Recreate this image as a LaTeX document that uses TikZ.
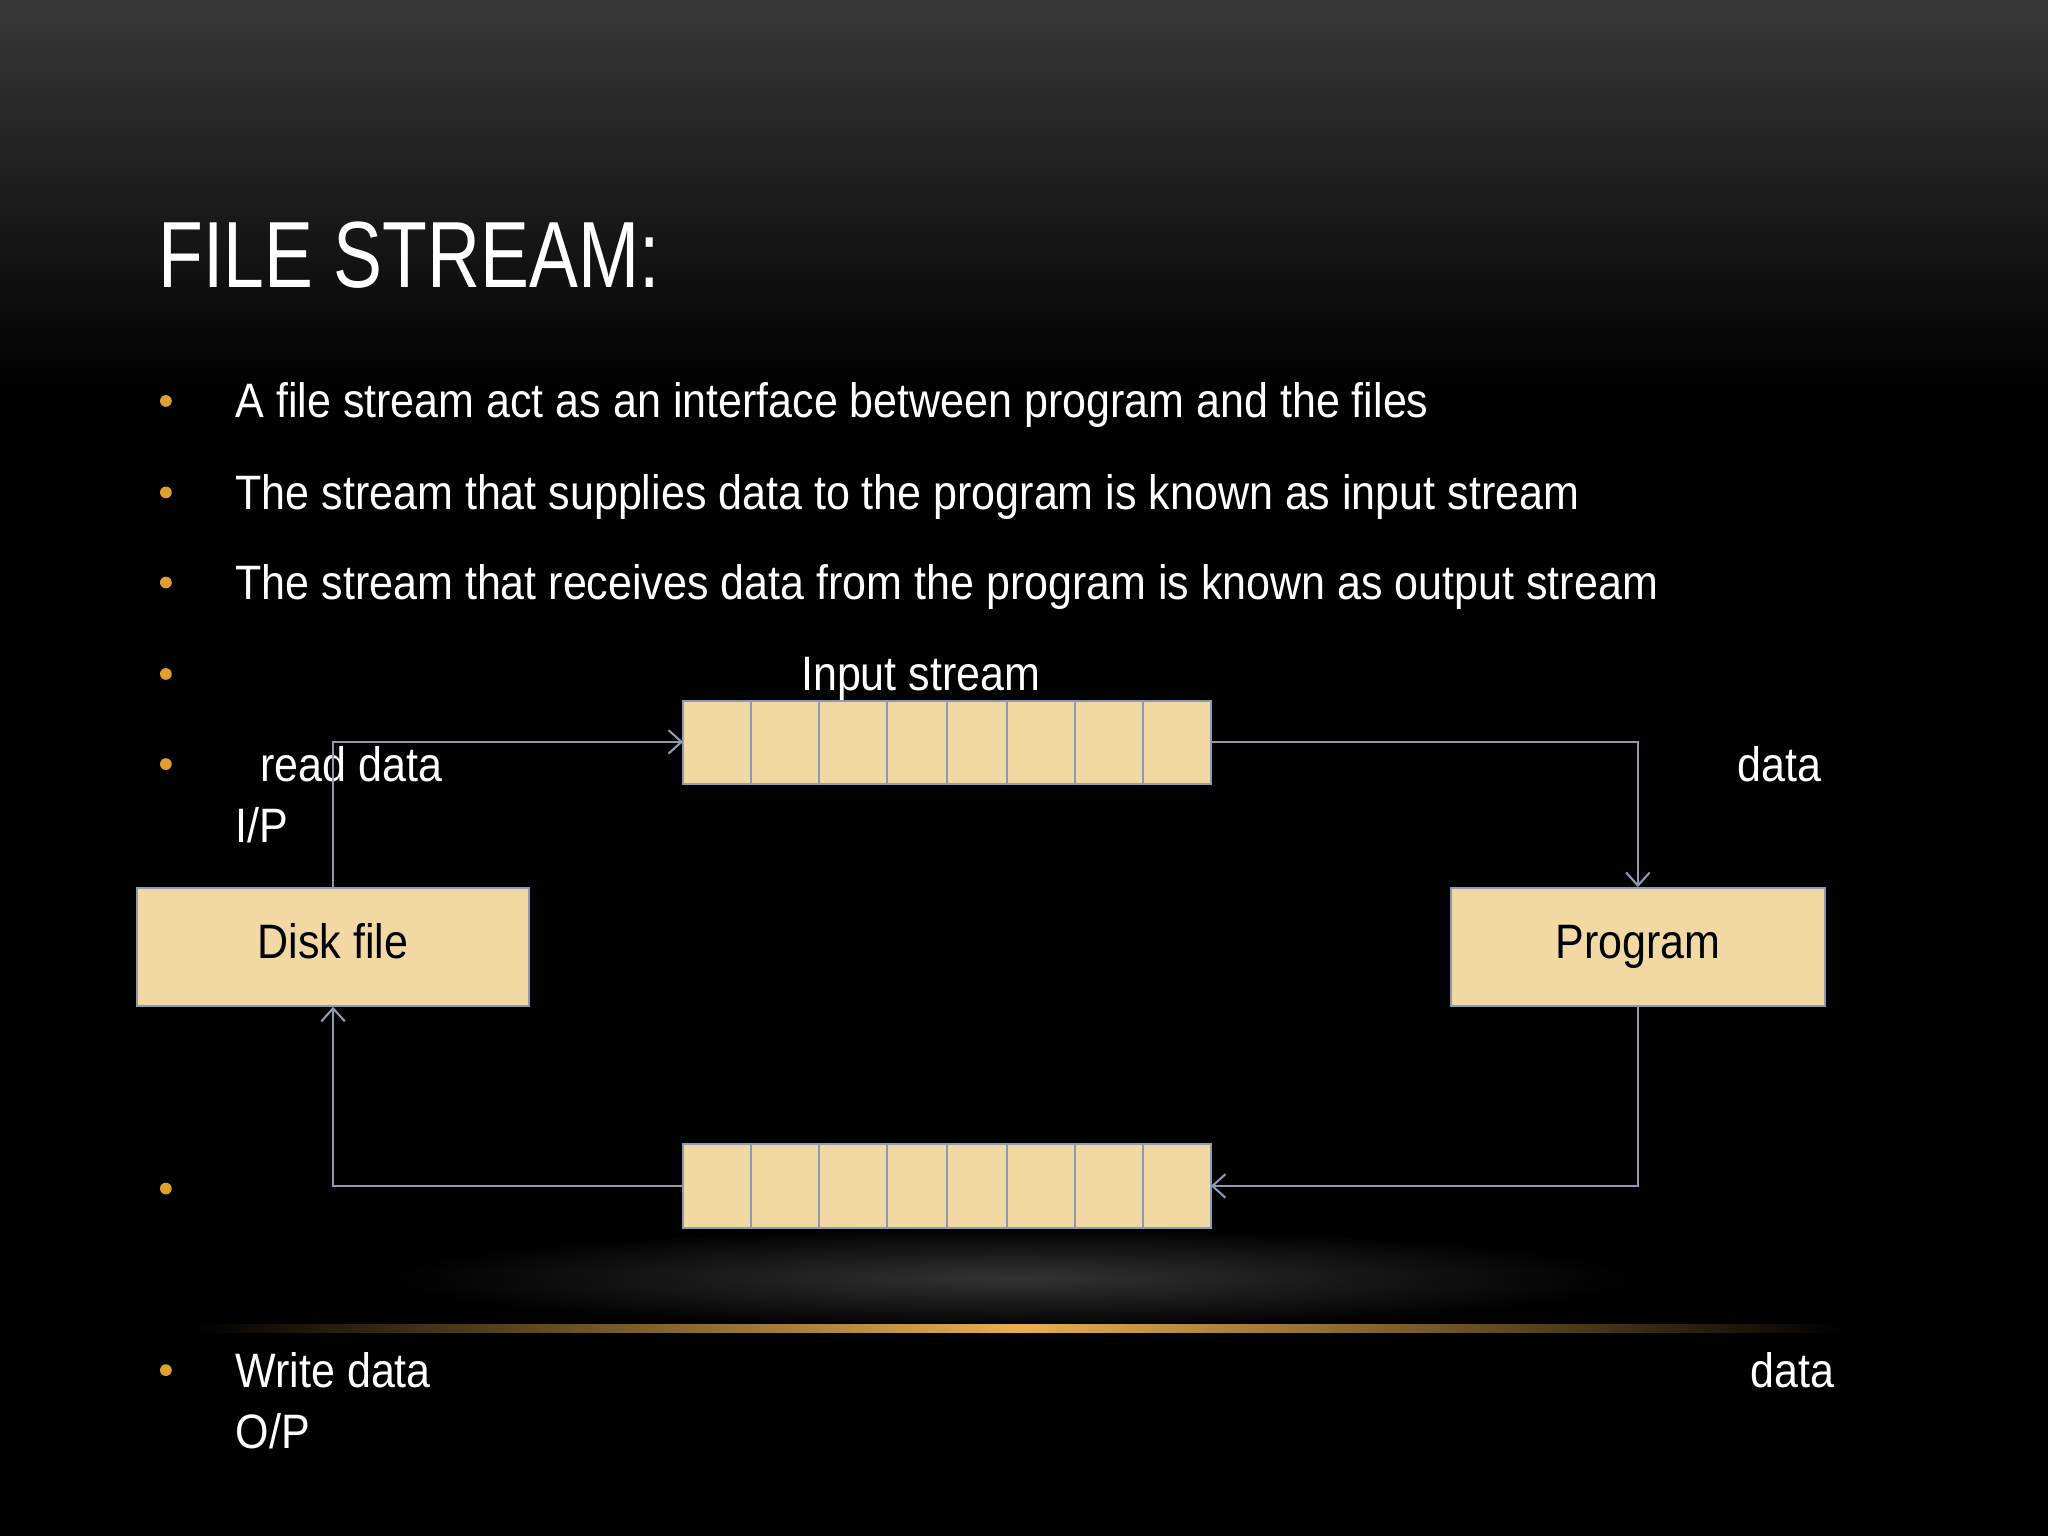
\documentclass[tikz,border=0pt]{standalone}
\usepackage{fontspec}
\usetikzlibrary{arrows.meta}
\setmainfont{Liberation Sans}[FakeStretch=0.89]
\newfontfamily\titlefont{Liberation Sans}[FakeStretch=0.78]
\definecolor{cellfill}{HTML}{F2D9A3}
\definecolor{edge}{HTML}{8A9BB2}
\definecolor{bulc}{HTML}{E0A030}
\definecolor{gold}{HTML}{E8B050}
\begin{document}
\begin{tikzpicture}[x=0.5pt,y=-0.5pt,
  txt/.style={text=white,font=\fontsize{18.5}{20}\selectfont,inner sep=0pt},
  bul/.style={circle,fill=bulc,inner sep=0pt,minimum size=4.5pt},
  cell/.style={draw=edge,fill=cellfill,line width=0.8pt},
  box/.style={draw=edge,fill=cellfill,line width=0.8pt,text=black,font=\fontsize{18.5}{20}\selectfont,text height=13pt,text depth=4pt},
  conn/.style={draw=edge,line width=0.8pt},
  arr/.style={conn,-{Straight Barb[length=5pt,width=9pt]}}]
\useasboundingbox (0,0) rectangle (1568,1176);
\shade[top color=black!78,bottom color=black] (0,0) rectangle (1568,300);
\fill[black] (0,300) rectangle (1568,1176);
\shade[inner color=gray!40!black,outer color=black] (300,940) rectangle (1250,1017);
\shade[left color=black,right color=gold,shading angle=90] (150,1014) rectangle (780,1020);
\shade[left color=gold,right color=black] (780,1014) rectangle (1410,1020);
\node[anchor=base west,text=white,font=\titlefont\fontsize{36}{40}\selectfont,inner sep=0pt] (title) at (121,220) {FILE STREAM:};
\foreach \y [count=\i] in {307,377,446,516,585,910,1049} \node[bul] (b\i) at (127,\y) {};
\node[txt,anchor=base west] (t1) at (180,320) {A file stream act as an interface between program and the files};
\node[txt,anchor=base west] (t2) at (180,390) {The stream that supplies data to the program is known as input stream};
\node[txt,anchor=base west] (t3) at (180,459) {The stream that receives data from the program is known as output stream};
\node[txt,anchor=base west] (t4) at (613,529) {Input stream};
\node[txt,anchor=base west] (t5) at (199,598) {read data};
\node[txt,anchor=base west] (t6) at (180,645) {I/P};
\node[txt,anchor=base west] (t7) at (1330,598) {data};
\node[txt,anchor=base west] (t8) at (180,1062) {Write data};
\node[txt,anchor=base west] (t9) at (180,1109) {O/P};
\node[txt,anchor=base west] (t10) at (1340,1062) {data};
\node[box,minimum width=150pt,minimum height=45pt] (disk) at (255,725) {Disk file};
\node[box,minimum width=143pt,minimum height=45pt] (prog) at (1254,725) {Program};
\foreach \a/\b [count=\i] in {523/575,575/627,627/679,679/725,725/771,771/823,823/875,875/927}{
  \draw[cell] (\a,537) rectangle (\b,600);
  \draw[cell] (\a,876) rectangle (\b,940);}
\coordinate (inL) at (523,568); \coordinate (inR) at (927,568);
\coordinate (outL) at (523,908); \coordinate (outR) at (927,908);
\draw[arr] (disk.north) |- (inL);
\draw[arr] (inR) -| (prog.north);
\draw[arr] (prog.south) |- (outR);
\draw[arr] (outL) -| (disk.south);
\end{tikzpicture}
\end{document}
